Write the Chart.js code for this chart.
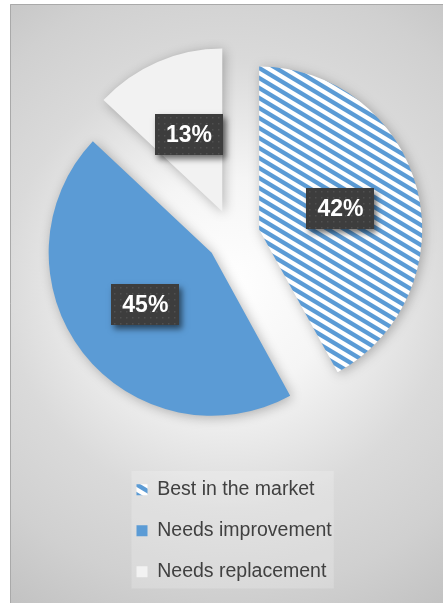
<!DOCTYPE html>
<html>
<head>
<meta charset="utf-8">
<script src="https://cdn.jsdelivr.net/npm/chart.js@4/dist/chart.umd.min.js"></script>
<style>
  html, body { margin: 0; padding: 0; background: #ffffff; overflow: hidden; }
  #wrap { width: 443px; height: 603px; position: relative; }
</style>
</head>
<body>
<div id="wrap"><canvas id="c" width="443" height="603"></canvas></div>
<script>
// Survey result: how the product is rated
const categories = ['Best in the market', 'Needs improvement', 'Needs replacement'];
const shares = [42, 45, 13];

const BLUE = '#5B9BD5';
const LIGHT = '#F2F2F2';

// Diagonal blue/white hatch used by the first slice
function hatchPattern() {
  const tile = document.createElement('canvas');
  tile.width = 50; tile.height = 10;
  const g = tile.getContext('2d');
  g.fillStyle = '#ffffff';
  g.fillRect(0, 0, 50, 10);
  g.fillStyle = BLUE;
  for (let k = -4; k <= 2; k++) {
    const c = k * 10;
    g.beginPath();
    g.moveTo(0, c);
    g.lineTo(50, c + 30);
    g.lineTo(50, c + 35);
    g.lineTo(0, c + 5);
    g.closePath();
    g.fill();
  }
  return g.createPattern(tile, 'repeat');
}

const ctx0 = document.getElementById('c').getContext('2d');
const sliceFills = [hatchPattern(), BLUE, LIGHT];

// Grey radial backdrop with a thin frame
const backdrop = {
  id: 'backdrop',
  beforeDraw(chart) {
    const { ctx, width, height } = chart;
    ctx.save();
    ctx.fillStyle = '#ffffff';
    ctx.fillRect(0, 0, width, height);
    const g = ctx.createRadialGradient(228, 285, 0, 228, 285, 385);
    g.addColorStop(0, '#ffffff');
    g.addColorStop(0.28, '#f5f5f5');
    g.addColorStop(0.58, '#dadada');
    g.addColorStop(0.8, '#d0d0d0');
    g.addColorStop(1, '#c2c2c2');
    ctx.fillStyle = g;
    ctx.fillRect(10, 4, width - 10, height - 4);
    ctx.strokeStyle = '#a9a9a9';
    ctx.lineWidth = 1;
    ctx.beginPath();
    ctx.moveTo(10.5, height);
    ctx.lineTo(10.5, 4.5);
    ctx.lineTo(width, 4.5);
    ctx.stroke();

    // soft panel behind the legend entries
    const boxes = chart.legend && chart.legend.legendHitBoxes;
    if (boxes && boxes.length) {
      let l = Infinity, r = -Infinity, t = Infinity, b = -Infinity;
      boxes.forEach(h => {
        l = Math.min(l, h.left); r = Math.max(r, h.left + h.width);
        t = Math.min(t, h.top); b = Math.max(b, h.top + h.height);
      });
      ctx.fillStyle = 'rgba(255,255,255,0.2)';
      ctx.fillRect(l - 5, t - 9, r - l + 7, b - t + 16);
    }
    ctx.restore();
  }
};

// Pull every slice away from the centre along its bisector
const explode = {
  id: 'explode',
  afterDatasetUpdate(chart, args, opts) {
    args.meta.data.forEach(arc => {
      const mid = (arc.startAngle + arc.endAngle) / 2;
      arc.x += Math.cos(mid) * opts.distance;
      arc.y += Math.sin(mid) * opts.distance;
    });
  }
};

// Soft shadow under the slices
const sliceShadow = {
  id: 'sliceShadow',
  beforeDatasetsDraw(chart) {
    const ctx = chart.ctx;
    ctx.save();
    ctx.shadowColor = 'rgba(0,0,0,0.28)';
    ctx.shadowBlur = 12;
    ctx.shadowOffsetX = 2;
    ctx.shadowOffsetY = 2;
  },
  afterDatasetsDraw(chart) {
    chart.ctx.restore();
  }
};

// Dark percentage tags placed inside each slice
const valueTags = {
  id: 'valueTags',
  afterDatasetsDraw(chart) {
    const ctx = chart.ctx;
    const meta = chart.getDatasetMeta(0);
    const values = chart.data.datasets[0].data;
    ctx.save();
    ctx.font = 'bold 23px "Liberation Sans", Arial, sans-serif';
    meta.data.forEach((arc, i) => {
      const mid = (arc.startAngle + arc.endAngle) / 2;
      const d = arc.outerRadius * 0.515;
      const cx = arc.x + Math.cos(mid) * d;
      const cy = arc.y + Math.sin(mid) * d;
      const text = values[i] + '%';
      const tw = ctx.measureText(text).width;
      const w = Math.round(tw + 22), h = 41;
      const x = Math.round(cx - w / 2), y = Math.round(cy - h / 2);

      ctx.save();
      ctx.shadowColor = 'rgba(0,0,0,0.55)';
      ctx.shadowBlur = 6;
      ctx.shadowOffsetX = 3;
      ctx.shadowOffsetY = 4;
      ctx.fillStyle = '#3d3d3d';
      ctx.fillRect(x, y, w, h);
      ctx.restore();

      // fine dot texture
      ctx.fillStyle = 'rgba(255,255,255,0.10)';
      for (let py = y + 3; py < y + h - 1; py += 6) {
        for (let px = x + 3; px < x + w - 1; px += 6) {
          ctx.fillRect(px, py, 1.5, 1.5);
        }
      }

      ctx.fillStyle = '#ffffff';
      ctx.textAlign = 'center';
      ctx.textBaseline = 'middle';
      ctx.fillText(text, cx, y + h / 2 + 1);
    });
    ctx.restore();
  }
};

new Chart(ctx0, {
  type: 'pie',
  data: {
    labels: categories,
    datasets: [{
      data: shares,
      backgroundColor: sliceFills,
      borderWidth: 0,
      radius: 163,
      clip: false
    }]
  },
  options: {
    responsive: false,
    maintainAspectRatio: false,
    animation: false,
    events: [],
    layout: { padding: { top: 14, left: 115, right: 92, bottom: 11.5 } },
    plugins: {
      explode: { distance: 27 },
      tooltip: { enabled: false },
      legend: {
        position: 'bottom',
        align: 'start',
        labels: {
          color: '#404040',
          boxWidth: 11,
          boxHeight: 11,
          padding: 21.5,
          font: { family: '"Liberation Sans", Arial, sans-serif', size: 19.5 }
        }
      }
    }
  },
  plugins: [backdrop, explode, sliceShadow, valueTags]
});
</script>
</body>
</html>
